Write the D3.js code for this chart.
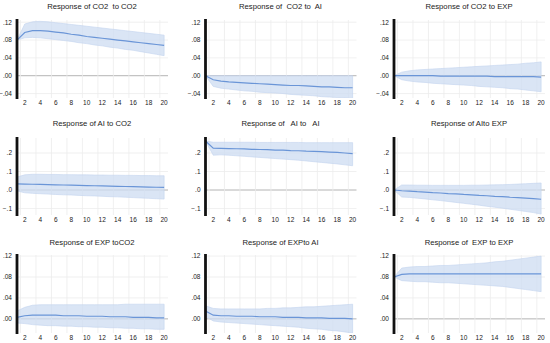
<!DOCTYPE html>
<html lang="en">
<head>
  <meta charset="utf-8">
  <title>Impulse responses</title>
  <style>
    body { margin:0; background:#fff; }
    svg  { display:block; }
    text { font-family: "Liberation Sans", "DejaVu Sans", sans-serif; fill:#222; }
    .title { font-size:7.7px; white-space:pre; }
    .tick  { font-size:6.5px; }
  </style>
</head>
<body>
<script src="https://d3js.org/d3.v7.min.js"></script>
<script>

// periods after the shock
const periods = [1,2,3,4,5,6,7,8,9,10,11,12,13,14,15,16,17,18,19,20];
const xTicks  = [2,4,6,8,10,12,14,16,18,20];

// tick values for each row of panels
const ticksSmall = [0.12, 0.08, 0.04, 0.00, -0.04];
const ticksAI    = [0.2, 0.1, 0.0, -0.1];

// panel titles (kept with the odd spacing of the original)
const titles = [
  "Response of CO2  to CO2", "Response of  CO2 to  AI", "Response of CO2 to EXP",
  "Response of AI to CO2",   "Response of   AI to   AI", "Response of AIto EXP",
  "Response of EXP toCO2",   "Response of EXPto AI",   "Response of  EXP to EXP"
];

// responses, upper and lower bands
const co2_co2    = [0.080,0.097,0.101,0.101,0.100,0.098,0.096,0.093,0.091,0.088,0.086,0.084,0.082,0.080,0.078,0.076,0.074,0.072,0.070,0.068];
const co2_co2_hi = [0.080,0.116,0.121,0.122,0.121,0.119,0.117,0.115,0.113,0.111,0.109,0.107,0.105,0.103,0.101,0.099,0.097,0.095,0.093,0.091];
const co2_co2_lo = [0.080,0.085,0.086,0.085,0.083,0.081,0.079,0.077,0.074,0.072,0.069,0.067,0.064,0.062,0.059,0.057,0.054,0.051,0.048,0.045];

const co2_ai    = [0.000,-0.009,-0.012,-0.014,-0.015,-0.016,-0.017,-0.018,-0.019,-0.020,-0.021,-0.022,-0.022,-0.023,-0.024,-0.025,-0.025,-0.026,-0.027,-0.027];
const co2_ai_hi = [0.000,0.000,0.000,0.000,0.000,0.000,0.000,0.000,0.000,0.000,0.000,0.000,0.000,0.000,0.000,0.000,0.000,0.000,0.000,0.000];
const co2_ai_lo = [0.000,-0.024,-0.028,-0.030,-0.032,-0.034,-0.035,-0.037,-0.038,-0.039,-0.040,-0.042,-0.043,-0.044,-0.045,-0.047,-0.048,-0.049,-0.050,-0.051];

const co2_exp    = [0.000,0.000,0.000,0.000,0.000,0.000,-0.001,-0.001,-0.001,-0.001,-0.001,-0.001,-0.001,-0.002,-0.002,-0.002,-0.002,-0.002,-0.002,-0.003];
const co2_exp_hi = [0.000,0.008,0.011,0.013,0.014,0.015,0.016,0.017,0.018,0.019,0.020,0.021,0.022,0.023,0.024,0.025,0.026,0.028,0.029,0.031];
const co2_exp_lo = [0.000,-0.009,-0.012,-0.014,-0.015,-0.017,-0.018,-0.019,-0.020,-0.021,-0.022,-0.024,-0.025,-0.026,-0.027,-0.029,-0.030,-0.032,-0.034,-0.036];

const ai_co2    = [0.033,0.032,0.031,0.030,0.029,0.028,0.027,0.026,0.025,0.024,0.023,0.022,0.021,0.020,0.019,0.018,0.017,0.016,0.015,0.014];
const ai_co2_hi = [0.070,0.082,0.085,0.085,0.084,0.084,0.083,0.083,0.082,0.082,0.081,0.081,0.080,0.080,0.079,0.079,0.078,0.078,0.077,0.077];
const ai_co2_lo = [-0.005,-0.015,-0.018,-0.020,-0.022,-0.024,-0.026,-0.027,-0.029,-0.031,-0.032,-0.034,-0.036,-0.037,-0.039,-0.041,-0.043,-0.045,-0.047,-0.049];

const ai_ai    = [0.265,0.226,0.225,0.224,0.223,0.222,0.220,0.219,0.218,0.216,0.215,0.213,0.212,0.210,0.209,0.207,0.205,0.203,0.200,0.197];
const ai_ai_hi = [0.265,0.258,0.258,0.258,0.258,0.258,0.258,0.257,0.257,0.257,0.257,0.257,0.257,0.256,0.256,0.256,0.256,0.256,0.256,0.256];
const ai_ai_lo = [0.265,0.188,0.190,0.188,0.185,0.182,0.179,0.176,0.173,0.170,0.167,0.164,0.161,0.157,0.153,0.149,0.145,0.141,0.136,0.131];

const ai_exp    = [0.000,-0.004,-0.006,-0.009,-0.011,-0.014,-0.016,-0.019,-0.021,-0.024,-0.026,-0.029,-0.031,-0.034,-0.036,-0.039,-0.041,-0.044,-0.047,-0.050];
const ai_exp_hi = [0.000,0.027,0.027,0.026,0.026,0.025,0.025,0.025,0.025,0.025,0.026,0.026,0.027,0.028,0.029,0.030,0.032,0.034,0.036,0.038];
const ai_exp_lo = [0.000,-0.038,-0.040,-0.044,-0.048,-0.053,-0.057,-0.062,-0.067,-0.072,-0.077,-0.082,-0.088,-0.093,-0.098,-0.104,-0.110,-0.116,-0.122,-0.130];

const exp_co2    = [0.003,0.006,0.007,0.007,0.007,0.007,0.006,0.006,0.006,0.005,0.005,0.005,0.004,0.004,0.004,0.003,0.003,0.003,0.002,0.002];
const exp_co2_hi = [0.015,0.022,0.026,0.027,0.027,0.027,0.027,0.027,0.027,0.027,0.027,0.027,0.027,0.027,0.028,0.028,0.028,0.028,0.028,0.028];
const exp_co2_lo = [-0.008,-0.009,-0.011,-0.012,-0.013,-0.013,-0.014,-0.014,-0.015,-0.015,-0.016,-0.016,-0.017,-0.017,-0.018,-0.018,-0.019,-0.019,-0.020,-0.020];

const exp_ai    = [0.015,0.007,0.006,0.006,0.005,0.005,0.005,0.004,0.004,0.004,0.003,0.003,0.003,0.002,0.002,0.002,0.001,0.001,0.001,0.000];
const exp_ai_hi = [0.025,0.020,0.019,0.019,0.019,0.019,0.019,0.019,0.020,0.020,0.021,0.021,0.022,0.023,0.023,0.024,0.025,0.026,0.027,0.028];
const exp_ai_lo = [0.005,-0.004,-0.006,-0.007,-0.008,-0.009,-0.010,-0.011,-0.012,-0.013,-0.014,-0.015,-0.016,-0.018,-0.019,-0.020,-0.022,-0.023,-0.025,-0.027];

const exp_exp    = [0.080,0.085,0.086,0.086,0.086,0.086,0.086,0.086,0.086,0.086,0.086,0.086,0.086,0.086,0.086,0.086,0.086,0.086,0.086,0.086];
const exp_exp_hi = [0.080,0.097,0.099,0.100,0.100,0.101,0.102,0.102,0.103,0.104,0.105,0.106,0.107,0.109,0.110,0.112,0.114,0.116,0.118,0.120];
const exp_exp_lo = [0.080,0.073,0.072,0.071,0.071,0.070,0.069,0.069,0.068,0.067,0.066,0.065,0.064,0.063,0.062,0.060,0.058,0.056,0.054,0.052];

const width = 550, height = 343;

// layout of the 3x3 grid
const colLeft = [17, 205.5, 394];
const rows = [
  { top: 20,  bottom: 98,  domain: [-0.05, 0.125],  ticks: ticksSmall, titleY: 8.5 },
  { top: 138, bottom: 215, domain: [-0.135, 0.281], ticks: ticksAI,    titleY: 126 },
  { top: 255, bottom: 333, domain: [-0.027, 0.122], ticks: ticksSmall, titleY: 245 }
];

const panels = [
  [co2_co2, co2_co2_hi, co2_co2_lo], [co2_ai, co2_ai_hi, co2_ai_lo], [co2_exp, co2_exp_hi, co2_exp_lo],
  [ai_co2, ai_co2_hi, ai_co2_lo],    [ai_ai, ai_ai_hi, ai_ai_lo],    [ai_exp, ai_exp_hi, ai_exp_lo],
  [exp_co2, exp_co2_hi, exp_co2_lo], [exp_ai, exp_ai_hi, exp_ai_lo], [exp_exp, exp_exp_hi, exp_exp_lo]
];

const fmtSmall = v => d3.format(".2f")(v).replace("0.", ".");
const fmtAI    = v => d3.format(".1f")(v).replace("0.", ".");

const svg = d3.select("body").append("svg")
  .attr("width", width)
  .attr("height", height);

const defs = svg.append("defs");

panels.forEach((p, i) => {
  const row = rows[Math.floor(i / 3)];
  const left = colLeft[i % 3];
  const [resp, hi, lo] = p;

  const x = d3.scaleLinear().domain([1, 20.5]).range([left, left + 151]);
  const y = d3.scaleLinear().domain(row.domain).range([row.bottom, row.top]);
  const tf = row.ticks === ticksAI ? fmtAI : fmtSmall;
  const yTicks = row.ticks.filter(t => t >= row.domain[0] && t <= row.domain[1]);

  const g = svg.append("g");

  defs.append("clipPath").attr("id", "clip" + i)
    .append("rect")
      .attr("x", left).attr("y", row.top)
      .attr("width", 151).attr("height", row.bottom - row.top);

  // horizontal grid
  g.append("g").selectAll("line")
    .data(yTicks)
    .join("line")
      .attr("x1", left).attr("x2", x(20.5))
      .attr("y1", d => y(d)).attr("y2", d => y(d))
      .attr("stroke", d => d === 0 ? "#b4b4b4" : "#ececec")
      .attr("stroke-width", d => d === 0 ? 1 : 0.8);

  // vertical grid, between observations
  g.append("g").selectAll("line")
    .data(xTicks)
    .join("line")
      .attr("x1", d => x(d - 0.55)).attr("x2", d => x(d - 0.55))
      .attr("y1", row.top).attr("y2", row.bottom)
      .attr("stroke", "#ececec")
      .attr("stroke-width", 0.8);

  // confidence band
  const area = d3.area()
    .x((d, k) => x(periods[k]))
    .y0((d, k) => y(lo[k]))
    .y1((d, k) => y(hi[k]));

  g.append("path")
    .datum(resp)
    .attr("clip-path", `url(#clip${i})`)
    .attr("d", area)
    .attr("fill", "#cddcf1")
    .attr("fill-opacity", 0.75)
    .attr("stroke", "#c2d4ee")
    .attr("stroke-width", 0.6);

  // response line
  const line = d3.line()
    .x((d, k) => x(periods[k]))
    .y(d => y(d));

  g.append("path")
    .datum(resp)
    .attr("d", line)
    .attr("fill", "none")
    .attr("stroke", "#6a95d7")
    .attr("stroke-width", 1.2);

  // thick y axis
  g.append("line")
    .attr("x1", left).attr("x2", left)
    .attr("y1", row.top - 1).attr("y2", row.bottom + 1)
    .attr("stroke", "#111")
    .attr("stroke-width", 2.8);

  // y tick labels
  g.append("g").selectAll("text")
    .data(yTicks)
    .join("text")
      .attr("class", "tick")
      .attr("x", left - 5)
      .attr("y", d => y(d) + 2.3)
      .attr("text-anchor", "end")
      .text(tf);

  // x tick labels
  g.append("g").selectAll("text")
    .data(xTicks)
    .join("text")
      .attr("class", "tick")
      .attr("x", d => x(d))
      .attr("y", row.bottom + 7)
      .attr("text-anchor", "middle")
      .text(d => d);

  // title
  g.append("text")
    .attr("class", "title")
    .attr("x", left + 75)
    .attr("y", row.titleY)
    .attr("text-anchor", "middle")
    .text(titles[i]);
});
</script>
</body>
</html>
